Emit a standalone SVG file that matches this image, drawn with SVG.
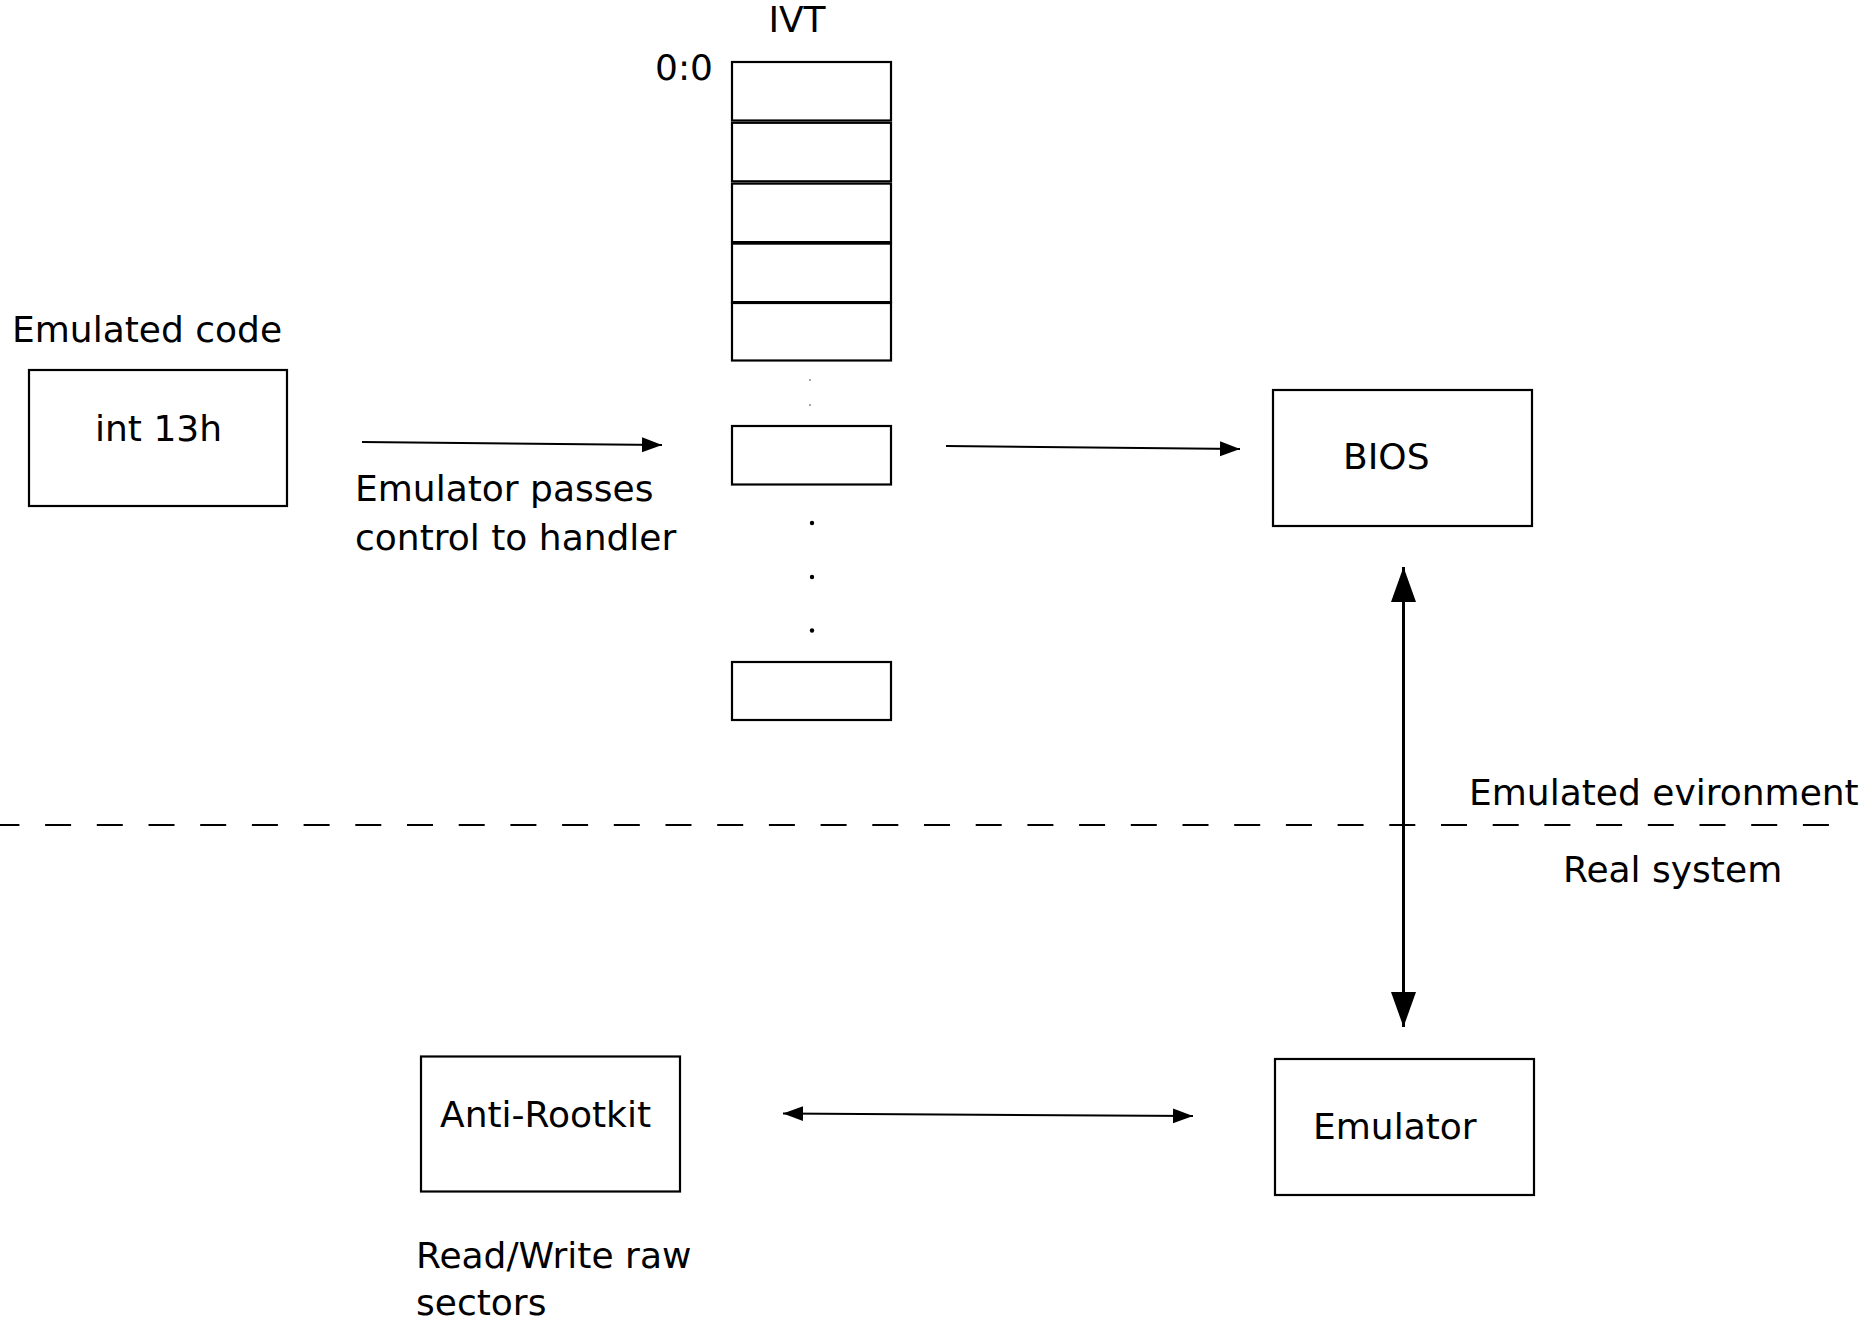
<svg xmlns="http://www.w3.org/2000/svg" width="1870" height="1322" viewBox="0 0 1870 1322">
<style>
  text { font-family: "DejaVu Sans", "Liberation Sans", sans-serif; font-size: 36px; fill: #000; }
  .box { fill: #fff; stroke: #000; stroke-width: 2.2; }
  .conn { stroke: #000; stroke-width: 2; fill: none; }
  .conn-thick { stroke: #000; stroke-width: 3; fill: none; }
  .dash { stroke: #000; stroke-width: 2; stroke-dasharray: 26 25.7; fill: none; }
</style>
<defs>
  <marker id="arrowSmall" viewBox="-20 -8 21 16" refX="0" refY="0" markerWidth="21" markerHeight="16" markerUnits="userSpaceOnUse" orient="auto-start-reverse">
    <path d="M0,0 L-20,-7.5 L-20,7.5 Z" fill="#000"/>
  </marker>
  <marker id="arrowBig" viewBox="-35 -13 36 26" refX="0" refY="0" markerWidth="36" markerHeight="26" markerUnits="userSpaceOnUse" orient="auto-start-reverse">
    <path d="M0,0 L-35,-12.5 L-35,12.5 Z" fill="#000"/>
  </marker>
</defs>
<rect width="1870" height="1322" fill="#fff"/>

<g id="emulated-code">
  <text x="12" y="342">Emulated code</text>
  <rect class="box" x="29" y="370" width="258" height="136"/>
  <text x="95" y="441">int 13h</text>
</g>

<g id="ivt">
  <text x="797" y="32" text-anchor="middle">IVT</text>
  <text x="655" y="80">0:0</text>
  <rect class="box" x="732" y="62" width="159" height="58.5"/>
  <rect class="box" x="732" y="122.8" width="159" height="58.5"/>
  <rect class="box" x="732" y="183.6" width="159" height="58.5"/>
  <rect class="box" x="732" y="243.6" width="159" height="58.5"/>
  <rect class="box" x="732" y="303" width="159" height="57.5"/>
  <circle cx="810" cy="380" r="1" fill="#888"/>
  <circle cx="810" cy="405" r="1" fill="#888"/>
  <rect class="box" x="732" y="426" width="159" height="58.5"/>
  <circle cx="812" cy="523" r="2.2" fill="#000"/>
  <circle cx="812" cy="577" r="2.2" fill="#000"/>
  <circle cx="812" cy="630.5" r="2.2" fill="#000"/>
  <rect class="box" x="732" y="662" width="159" height="58"/>
</g>

<g id="bios">
  <rect class="box" x="1273" y="390" width="259" height="136"/>
  <text x="1343" y="469">BIOS</text>
</g>

<g id="anti-rootkit">
  <rect class="box" x="421" y="1056.5" width="259" height="135"/>
  <text x="440" y="1127">Anti-Rootkit</text>
  <text x="416" y="1268">Read/Write raw</text>
  <text x="416" y="1315">sectors</text>
</g>

<g id="emulator">
  <rect class="box" x="1275" y="1059" width="259" height="136"/>
  <text x="1313" y="1139">Emulator</text>
</g>

<g id="divider">
  <line class="dash" x1="-6.6" y1="825" x2="1830" y2="825"/>
  <text x="1469" y="805">Emulated evironment</text>
  <text x="1563" y="882">Real system</text>
</g>

<g id="connectors">
  <line class="conn" x1="362" y1="442" x2="662" y2="445" marker-end="url(#arrowSmall)"/>
  <text x="355" y="501">Emulator passes</text>
  <text x="355" y="550">control to handler</text>
  <line class="conn" x1="946" y1="446" x2="1240" y2="449" marker-end="url(#arrowSmall)"/>
  <line class="conn-thick" x1="1403.5" y1="567" x2="1403.5" y2="1027" marker-start="url(#arrowBig)" marker-end="url(#arrowBig)"/>
  <line class="conn" x1="783" y1="1113.5" x2="1193" y2="1116" marker-start="url(#arrowSmall)" marker-end="url(#arrowSmall)"/>
</g>
</svg>
